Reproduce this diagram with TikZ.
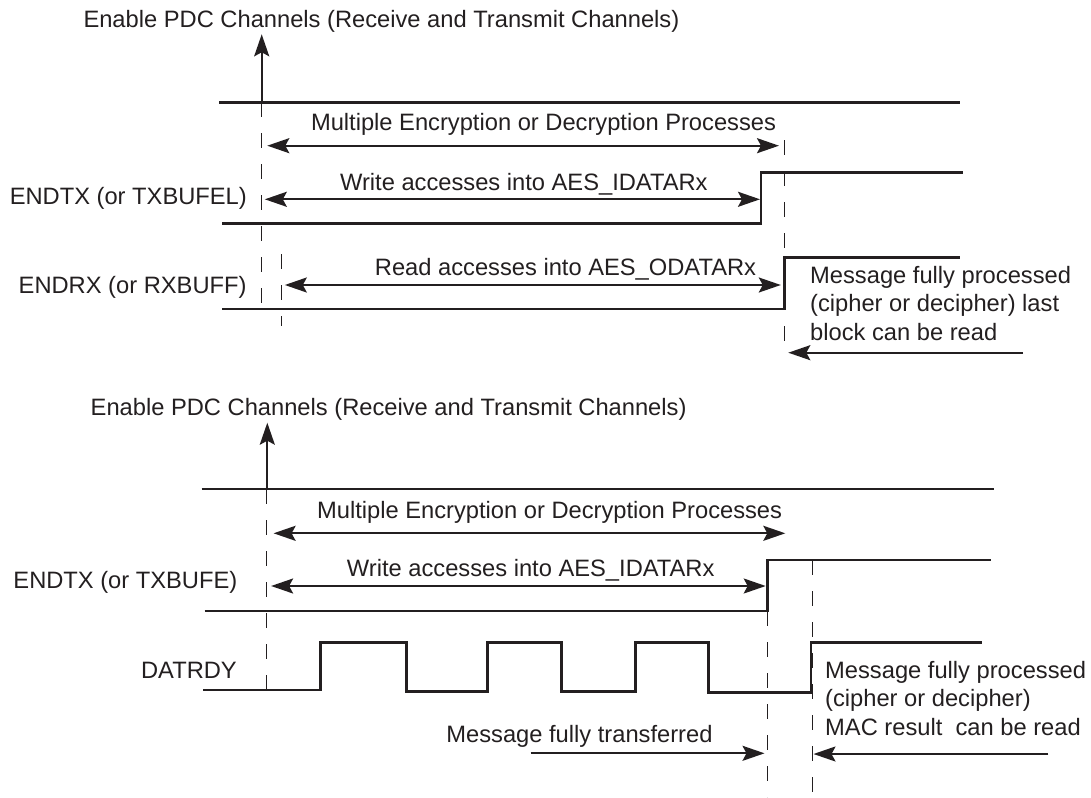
\documentclass[tikz,border=0pt]{standalone}
\usepackage{fontspec}
\setmainfont{Liberation Sans}
\usetikzlibrary{arrows.meta}
\definecolor{ink}{RGB}{35,31,32}
\begin{document}
\begin{tikzpicture}[x=1pt,y=-1pt,
  font=\fontsize{23.7}{28.3}\selectfont,
  every node/.style={inner sep=0pt,text=ink},
  lbl/.style={anchor=base east},
  txt/.style={anchor=base west},
  ctr/.style={anchor=base},
  sig/.style={draw=ink,line width=2.6pt,line join=miter},
  guide/.style={draw=ink,line width=1.3pt,dash pattern=on 15pt off 16pt},
  span/.style={draw=ink,line width=2.1pt,{Stealth[length=22pt,width=15pt,inset=4pt]}-{Stealth[length=22pt,width=15pt,inset=4pt]}},
  pointer/.style={draw=ink,line width=2.1pt,-{Stealth[length=22pt,width=15pt,inset=4pt]}}]
\useasboundingbox (0,0) rectangle (1091,797);

% ================= top diagram =================
\node[txt] (title1) at (83.3,27.8) {Enable PDC Channels (Receive and Transmit Channels)};
\coordinate (t1tip) at (261.7,34.3);
\coordinate (t1base) at (261.7,102.3);
\coordinate (en1L) at (219.2,102.3);
\coordinate (en1R) at (959.9,102.3);
\draw[sig] (en1L) -- (en1R);
\draw[pointer] (t1base) -- (t1tip);

% guides
\coordinate (g1a) at (261.7,102.3);
\coordinate (g1b) at (261.7,310);
\coordinate (g2a) at (784.6,140);
\coordinate (g2b) at (784.6,345);
\coordinate (g3a) at (281.7,254);
\coordinate (g3b) at (281.7,326);
\draw[guide] (g1a) -- (g1b);
\draw[guide] (g2a) -- (g2b);
\draw[guide] (g3a) -- (g3b);

% multiple processes
\node[ctr] (mult1) at (543.5,131) {Multiple Encryption or Decryption Processes};
\coordinate (m1L) at (267.3,145.7);
\coordinate (m1R) at (779,145.7);
\draw[span] (m1L) -- (m1R);

% ENDTX
\node[lbl] (endtx1) at (247,204.5) {ENDTX (or TXBUFEL)};
\node[ctr] (write1) at (523.8,190) {Write accesses into AES\_IDATARx};
\coordinate (w1L) at (264.8,199.3);
\coordinate (w1R) at (760,199.3);
\draw[span] (w1L) -- (w1R);
\coordinate (tx1a) at (222,223.7);
\coordinate (tx1b) at (760.8,223.7);
\coordinate (tx1c) at (760.8,172.7);
\coordinate (tx1d) at (962.9,172.7);
\draw[sig] (tx1a) -- (tx1b) -- (tx1c) -- (tx1d);

% ENDRX
\node[lbl] (endrx1) at (246.7,293.3) {ENDRX (or RXBUFF)};
\node[ctr] (read1) at (565.5,275) {Read accesses into AES\_ODATARx};
\coordinate (r1L) at (284.8,285);
\coordinate (r1R) at (780.8,285);
\draw[span] (r1L) -- (r1R);
\coordinate (rx1a) at (222,309);
\coordinate (rx1b) at (784.6,309);
\coordinate (rx1c) at (784.6,257.7);
\coordinate (rx1d) at (959.9,257.7);
\draw[sig] (rx1a) -- (rx1b) -- (rx1c) -- (rx1d);

\node[txt] (msg1a) at (810,283.3) {Message fully processed};
\node[txt] (msg1b) at (810,311.7) {(cipher or decipher) last};
\node[txt] (msg1c) at (810,340) {block can be read};
\coordinate (p1R) at (1023.2,352.7);
\coordinate (p1L) at (788.3,352.7);
\draw[pointer] (p1R) -- (p1L);

% ================= bottom diagram =================
\node[txt] (title2) at (90.5,415) {Enable PDC Channels (Receive and Transmit Channels)};
\coordinate (t2tip) at (267.3,422.7);
\coordinate (t2base) at (267.3,489);
\coordinate (en2L) at (201.7,489);
\coordinate (en2R) at (993.8,489);
\draw[sig] (en2L) -- (en2R);
\draw[pointer] (t2base) -- (t2tip);

\coordinate (h1a) at (266.6,489);
\coordinate (h1b) at (266.6,690);
\coordinate (h2a) at (767.6,611);
\coordinate (h2b) at (767.6,797);
\coordinate (h3a) at (812.8,560);
\coordinate (h3b) at (812.8,797);
\draw[guide] (h1a) -- (h1b);
\draw[guide] (h2a) -- (h2b);
\draw[guide] (h3a) -- (h3b);

\node[ctr] (mult2) at (549.6,518.3) {Multiple Encryption or Decryption Processes};
\coordinate (m2L) at (273.6,533.3);
\coordinate (m2R) at (785.3,533.3);
\draw[span] (m2L) -- (m2R);

\node[lbl] (endtx2) at (237.5,588) {ENDTX (or TXBUFE)};
\node[ctr] (write2) at (530.7,576.7) {Write accesses into AES\_IDATARx};
\coordinate (w2L) at (271.1,586);
\coordinate (w2R) at (765.7,586);
\draw[span] (w2L) -- (w2R);
\coordinate (tx2a) at (204.5,611);
\coordinate (tx2b) at (767.6,611);
\coordinate (tx2c) at (767.6,560);
\coordinate (tx2d) at (991.1,560);
\draw[sig] (tx2a) -- (tx2b) -- (tx2c) -- (tx2d);

\node[lbl] (datrdy) at (237,678.3) {DATRDY};
\coordinate (d0) at (203.4,690);
\coordinate (d1) at (320.2,690);
\coordinate (d2) at (320.2,642.3);
\coordinate (d3) at (406.2,642.3);
\coordinate (d4) at (406.2,691.5);
\coordinate (d5) at (487.5,691.5);
\coordinate (d6) at (487.5,642.3);
\coordinate (d7) at (561.4,642.3);
\coordinate (d8) at (561.4,691.5);
\coordinate (d9) at (635.7,691.5);
\coordinate (d10) at (635.7,642.3);
\coordinate (d11) at (708.4,642.3);
\coordinate (d12) at (708.4,692.5);
\coordinate (d13) at (811,692.5);
\coordinate (d14) at (811,642.3);
\coordinate (d15) at (981.7,642.3);
\draw[sig] (d0) -- (d1) -- (d2) -- (d3) -- (d4) -- (d5) -- (d6) -- (d7) -- (d8)
  -- (d9) -- (d10) -- (d11) -- (d12) -- (d13) -- (d14) -- (d15);

\node[txt] (xfer) at (446.2,742) {Message fully transferred};
\coordinate (x2L) at (530.5,753.3);
\coordinate (x2R) at (764.5,753.3);
\draw[pointer] (x2L) -- (x2R);

\node[txt] (msg2a) at (825,678.3) {Message fully processed};
\node[txt] (msg2b) at (825,706.7) {(cipher or decipher)};
\node[txt] (msg2c) at (825,735) {MAC result\ \ can be read};
\coordinate (p2R) at (1048.4,754);
\coordinate (p2L) at (813.5,754);
\draw[pointer] (p2R) -- (p2L);
\end{tikzpicture}
\end{document}
